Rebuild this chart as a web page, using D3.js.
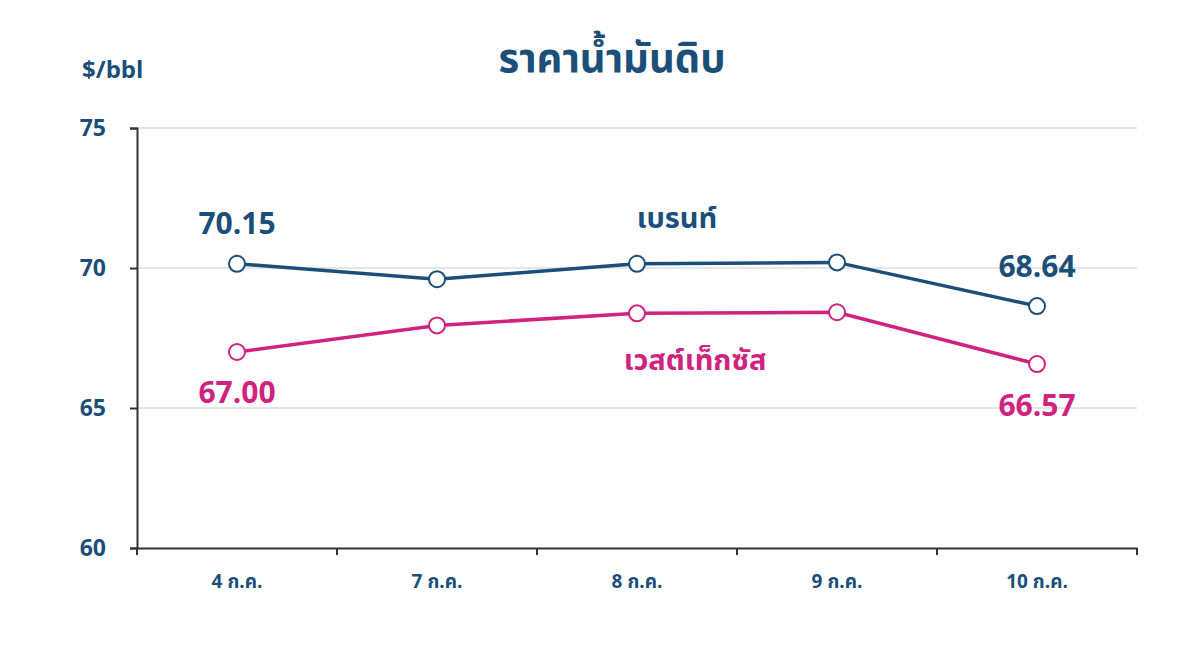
<!DOCTYPE html>
<html><head><meta charset="utf-8">
<script src="https://cdn.jsdelivr.net/npm/d3@7"></script>
<style>body{margin:0;background:#fff}text{font-family:"Noto Sans Thai","Noto Sans","Leelawadee UI",Tahoma,sans-serif;font-weight:bold}</style>
</head><body><svg id="c" width="1200" height="645"></svg>
<script>
const categories=["4 ก.ค.","7 ก.ค.","8 ก.ค.","9 ก.ค.","10 ก.ค."];
const brent=[70.15,69.60,70.15,70.20,68.64];
const wti=[67.00,67.95,68.38,68.42,66.57];
const yTicks=[60,65,70,75];
const blue="#1b4f79",pink="#d0227f";
const svg=d3.select("#c");
const x=d3.scaleBand().domain(categories).range([137,1137]);
const y=d3.scaleLinear().domain([60,75]).range([548,128]);
const cx=d=>x(d)+x.bandwidth()/2;
svg.append("g").selectAll("line").data(yTicks.slice(1)).join("line")
 .attr("x1",137).attr("x2",1137).attr("y1",y).attr("y2",y).attr("stroke","#dcdcdc").attr("stroke-width",1.5);
const ya=svg.append("g").attr("transform","translate(137,0)").call(d3.axisLeft(y).tickValues(yTicks).tickSize(7).tickPadding(24));
ya.select(".domain").attr("stroke","#333").attr("stroke-width",2);
ya.selectAll(".tick line").attr("stroke","#333").attr("stroke-width",2);
ya.selectAll("text").attr("fill",blue).attr("font-size",23).style("font-family","Noto Sans").attr("font-weight","bold");
const xa=svg.append("g").attr("transform","translate(0,548)").call(d3.axisBottom(x).tickSize(0).tickPadding(27));
xa.select(".domain").attr("stroke","#333").attr("stroke-width",2);
xa.selectAll("text").attr("fill",blue).attr("font-size",19);
svg.append("g").selectAll("line").data(d3.range(categories.length+1)).join("line")
 .attr("x1",i=>137+i*x.step()).attr("x2",i=>137+i*x.step()).attr("y1",548).attr("y2",555).attr("stroke","#333").attr("stroke-width",2);
function series(vals,col){
 const line=d3.line().x((d,i)=>cx(categories[i])).y(d=>y(d));
 svg.append("path").datum(vals).attr("d",line).attr("fill","none").attr("stroke",col).attr("stroke-width",3.5);
 svg.append("g").selectAll("circle").data(vals).join("circle").attr("cx",(d,i)=>cx(categories[i])).attr("cy",d=>y(d)).attr("r",8)
  .attr("fill","#fff").attr("stroke",col).attr("stroke-width",2);
}
series(brent,blue);series(wti,pink);
const lbl=(t,xx,yy,col,fs)=>svg.append("text").attr("x",xx).attr("y",yy).attr("text-anchor","middle").attr("fill",col).attr("font-size",fs).text(t);
lbl(brent[0].toFixed(2),237,234,blue,30);
lbl(brent[4].toFixed(2),1037,277,blue,30);
lbl(wti[0].toFixed(2),237,403,pink,30);
lbl(wti[4].toFixed(2),1037,416,pink,30);
lbl("เบรนท์",677,228,blue,29);
lbl("เวสต์เท็กซัส",695,370,pink,29);
lbl("ราคาน้ำมันดิบ",612,72,blue,40);
svg.append("text").attr("x",82).attr("y",78).attr("fill",blue).attr("font-size",24).text("$/bbl");
</script></body></html>
